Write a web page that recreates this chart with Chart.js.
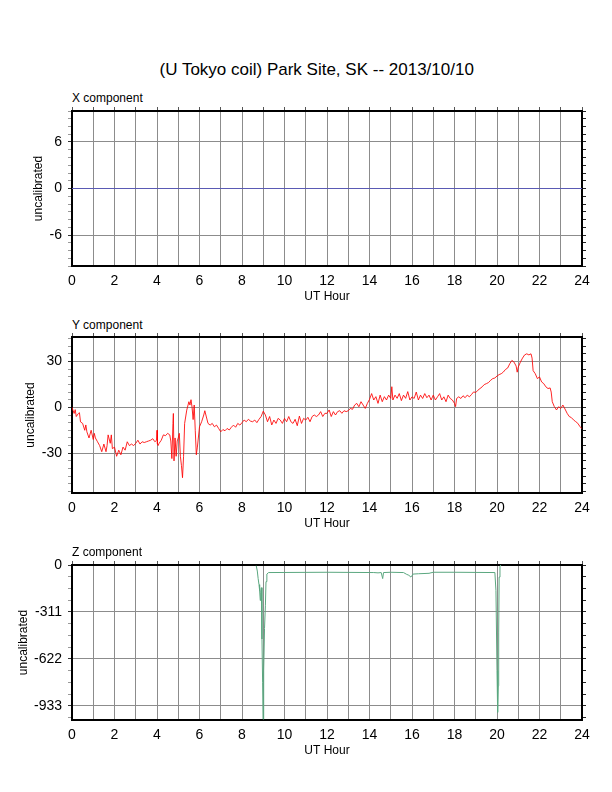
<!DOCTYPE html>
<html lang="en">

<head>
    <meta charset="UTF-8">
    <title>(U Tokyo coil) Park Site, SK -- 2013/10/10</title>
    <script src="https://cdn.jsdelivr.net/npm/chart.js"></script>
    <style>
        body {
            margin: 0;
            width: 612px;
            height: 792px;
            background: #fff;
            position: relative;
            overflow: hidden;
            font-family: "Liberation Sans", Arial, sans-serif;
            color: #000;
        }

        .titulo {
            position: absolute;
            top: 60.6px;
            left: 316.7px;
            transform: translateX(-50%);
            font-size: 17px;
            line-height: 17px;
            white-space: nowrap;
        }

        .rotulo {
            position: absolute;
            left: 72px;
            font-size: 12px;
            line-height: 12px;
            white-space: nowrap;
        }

        canvas {
            position: absolute;
            left: 0;
        }
    </style>
</head>

<body>
    <div class="titulo">(U Tokyo coil) Park Site, SK -- 2013/10/10</div>

    <div class="rotulo" style="top: 91.5px;">X component</div>
    <canvas id="painelX" width="612" height="230" style="top: 86px;"></canvas>

    <div class="rotulo" style="top: 318.8px;">Y component</div>
    <canvas id="painelY" width="612" height="231" style="top: 312px;"></canvas>

    <div class="rotulo" style="top: 545.8px;">Z component</div>
    <canvas id="painelZ" width="612" height="230" style="top: 540px;"></canvas>

    <script>
        // X component: flat line at zero
        const horasX = [0, 24];
        const valoresX = [0, 0];

        // Y component (UT hour / value)
        const horasY = [
            0.00, 0.05, 0.10, 0.15, 0.20, 0.30, 0.35, 0.40, 0.50, 0.60, 0.65, 0.70, 0.80, 0.90,
            1.00, 1.05, 1.10, 1.20, 1.30, 1.40, 1.50, 1.60, 1.65, 1.70, 1.80, 1.85, 1.90,
            2.00, 2.10, 2.20, 2.30, 2.40, 2.50, 2.60, 2.70, 2.80, 2.90,
            3.00, 3.10, 3.20, 3.30, 3.40, 3.50, 3.60, 3.70, 3.80, 3.90, 3.98,
            4.00, 4.02, 4.05, 4.10, 4.20, 4.30, 4.40, 4.50, 4.60, 4.65, 4.70, 4.75, 4.77, 4.80, 4.85, 4.90, 4.95,
            5.00, 5.05, 5.10, 5.15, 5.20, 5.25, 5.30, 5.40, 5.50, 5.55, 5.60, 5.65, 5.70, 5.75, 5.80, 5.85, 5.90,
            6.00, 6.10, 6.20, 6.25, 6.30, 6.40, 6.50, 6.60, 6.70, 6.80, 6.90,
            7.00, 7.10, 7.20, 7.30, 7.40, 7.50, 7.60, 7.70, 7.80, 7.90,
            8.00, 8.10, 8.20, 8.30, 8.40, 8.50, 8.60, 8.70, 8.80, 8.90,
            9.00, 9.10, 9.20, 9.30, 9.40, 9.50, 9.60, 9.70, 9.80, 9.90,
            10.00, 10.10, 10.20, 10.30, 10.40, 10.50, 10.60, 10.70, 10.80, 10.90,
            11.00, 11.10, 11.20, 11.30, 11.40, 11.50, 11.60, 11.70, 11.80, 11.90,
            12.00, 12.10, 12.20, 12.30, 12.40, 12.50, 12.60, 12.70, 12.80, 12.90,
            13.00, 13.10, 13.20, 13.30, 13.40, 13.50, 13.60, 13.70, 13.80, 13.90,
            14.00, 14.10, 14.20, 14.30, 14.40, 14.50, 14.60, 14.70, 14.80, 14.90,
            15.00, 15.05, 15.10, 15.20, 15.30, 15.40, 15.50, 15.60, 15.70, 15.80, 15.90,
            16.00, 16.10, 16.20, 16.30, 16.40, 16.50, 16.60, 16.70, 16.80, 16.90,
            17.00, 17.10, 17.20, 17.30, 17.40, 17.50, 17.60, 17.70, 17.80, 17.90,
            18.00, 18.05, 18.10, 18.20, 18.30, 18.40, 18.50, 18.60, 18.70, 18.80, 18.90,
            19.00, 19.10, 19.20, 19.30, 19.40, 19.50, 19.60, 19.70, 19.80, 19.90,
            20.00, 20.10, 20.20, 20.30, 20.40, 20.50, 20.60, 20.70, 20.80, 20.90, 20.95,
            21.00, 21.10, 21.20, 21.30, 21.40, 21.50, 21.60, 21.65, 21.70, 21.80, 21.90,
            22.00, 22.10, 22.20, 22.30, 22.40, 22.50, 22.55, 22.60, 22.70, 22.80, 22.90,
            23.00, 23.10, 23.20, 23.30, 23.40, 23.50, 23.60, 23.70, 23.80, 23.90, 24.00
        ];
        const valoresY = [
            0, -2, -4, -1.5, -6, -4, -3.5, -9.5, -10.5, -15, -11.5, -16, -20, -15,
            -21, -17, -20, -22.5, -25, -29, -24, -29, -25, -18, -23.5, -18, -27,
            -26, -32, -28, -31, -26, -28, -22.5, -25, -24, -25,
            -23.5, -21.5, -24, -22.5, -23, -22.5, -22, -21.5, -20.5, -22.5, -21.5,
            -15, -24, -25, -23.5, -21.5, -18, -18.5, -17, -18, -22, -33.5, -10.5, -4, -35, -20, -32, -22,
            -20, -17, -32, -38, -46, -32, -10.5, -1.8, 3.7, 1.5, 5, 0, -8, 1.5, -15, -31, -26,
            -12.7, -9.4, -5, -2.2, -5, -10.5, -11.6, -10.5, -12.7, -11.6, -13.8,
            -16, -14.5, -15.3, -13.8, -14.8, -13, -11.6, -13, -10.5, -11.6,
            -10, -8.3, -9.4, -7.8, -9, -9.4, -8.3, -10, -7.8, -6,
            -2.5, -5, -9.4, -6, -11.5, -8.3, -10.5, -7.2, -8.3, -10.5,
            -7.2, -9.4, -6, -9.4, -10.5, -7.8, -12, -5.7, -10.5, -7.2,
            -8.3, -6.5, -9.4, -6, -5, -6, -5, -2.8, -6, -3.9,
            -3.9, -1.7, -6, -2.8, -5, -2.8, -2.2, -3.9, -2.2, -2.8,
            -2.2, -0.7, -1.3, 1.5, 2.6, 0.4, 3.7, 1.5, -0.7, 2.6,
            5.2, 9, 4.8, 7, 2.6, 8, 3.7, 7, 4.8, 8,
            5.9, 13.5, 4.8, 8, 5.9, 9, 4.4, 8, 5.9, 10.3, 4.8,
            6.9, 5.8, 10, 4.8, 8, 5.8, 9, 6.3, 8, 4.8,
            8, 4.8, 6.9, 9, 4.8, 6.9, 3.7, 8, 5.8, 4.8,
            2.6, 0.5, 5.8, 6.9, 5.8, 7.6, 6.3, 8, 6.9, 8.4, 10.1,
            9.7, 11.2, 12.3, 13.4, 14.9, 15.5, 16.2, 17.7, 18.8, 19.2,
            20.5, 21.4, 22, 23.1, 24.8, 25.7, 28.5, 30.7, 29.6, 27, 23,
            26.3, 29.6, 32.2, 34.3, 35, 34.3, 35, 32.2, 24, 22, 18.8,
            19.9, 16.6, 15.5, 13.4, 12.3, 12.7, 10, 3.7, 0.4, -1.7, 0.4,
            -0.7, 1.5, -1.1, -3.9, -6, -6.7, -8.2, -9.3, -10.4, -12.5, -14
        ];

        // Z component (data only from ~8.7 h to ~20.2 h)
        const horasZ = [
            8.67, 8.72, 8.76, 8.80, 8.83, 8.86, 8.88, 8.91, 8.94, 8.97, 8.99, 9.02, 9.06, 9.10, 9.13, 9.17, 9.25,
            12.0, 14.2, 14.4, 14.55, 14.62, 14.66, 15.0, 15.6, 15.75, 15.85, 15.95, 15.98, 16.05, 16.3, 16.8,
            17.0, 18.0, 19.9, 19.95, 20.0, 20.03, 20.06, 20.08, 20.1, 20.14, 20.18
        ];
        const valoresZ = [
            -5, -40, -90, -130, -170, -235, -180, -150, -490, -780, -1020, -700, -420, -270, -110, -60, -50,
            -48, -50, -52, -50, -90, -50, -48, -50, -62, -68, -80, -75, -60, -58, -55,
            -48, -48, -50, -170, -700, -975, -800, -450, -80, -10, 0
        ];

        // ticks
        const horasEixo = [0, 2, 4, 6, 8, 10, 12, 14, 16, 18, 20, 22, 24];

        Chart.defaults.font.family = '"Liberation Sans", Arial, sans-serif';
        Chart.defaults.color = '#000';
        Chart.defaults.animation = false;

        function pontos(horas, valores) {
            return horas.map((h, i) => ({ x: h, y: valores[i] }));
        }

        // eixo: {min, max, passo, marca, recuo} -> marca = spacing of labelled ticks, recuo = y title padding
        function criaPainel(id, dados, cor, eixo) {
            const ehMarca = v => Math.abs(v % eixo.marca) < 1e-6;
            return new Chart(document.getElementById(id), {
                type: 'line',
                data: {
                    datasets: [{
                        data: dados,
                        borderColor: cor,
                        borderWidth: 1,
                        pointRadius: 0,
                        tension: 0,
                        fill: false
                    }]
                },
                options: {
                    responsive: false,
                    layout: { padding: { top: 20, left: 0, right: 0, bottom: 0 } },
                    plugins: { legend: { display: false }, tooltip: { enabled: false } },
                    scales: {
                        x: {
                            type: 'linear', min: 0, max: 24,
                            ticks: {
                                stepSize: 1, autoSkip: false, maxRotation: 0, padding: 7,
                                font: { size: 14 },
                                callback: v => (horasEixo.includes(v) ? v : '')
                            },
                            grid: {
                                drawTicks: false,
                                color: c => (c.tick && c.tick.value > 0 && c.tick.value < 24 ? '#8c8c8c' : 'rgba(0,0,0,0)')
                            },
                            border: { color: '#000', width: 2 },
                            title: { display: true, text: 'UT Hour', font: { size: 12 }, padding: { top: 0, bottom: 12 } },
                            afterFit: s => { s.height = 50; }
                        },
                        x2: {
                            type: 'linear', position: 'top', min: 0, max: 24,
                            ticks: { stepSize: 1, autoSkip: false, display: false },
                            grid: { drawOnChartArea: false, tickLength: 4, tickColor: '#555' },
                            border: { color: '#000', width: 2 },
                            afterFit: s => { s.height = 5; }
                        },
                        y: {
                            min: eixo.min, max: eixo.max,
                            ticks: {
                                stepSize: eixo.passo, autoSkip: false, includeBounds: false, padding: 6,
                                font: { size: 14 },
                                callback: v => (ehMarca(v) ? v : '')
                            },
                            grid: {
                                tickLength: 4,
                                color: c => (c.tick && ehMarca(c.tick.value) && c.tick.value !== eixo.max ? '#8c8c8c' : 'rgba(0,0,0,0)'),
                                tickColor: c => (c.tick && ehMarca(c.tick.value) ? '#333' : '#999')
                            },
                            border: { color: '#000', width: 2 },
                            title: { display: true, text: 'uncalibrated', font: { size: 12 }, padding: { top: eixo.recuo, bottom: 0 } },
                            afterFit: s => { s.width = 72; }
                        },
                        y2: {
                            type: 'linear', position: 'right', min: eixo.min, max: eixo.max,
                            ticks: { stepSize: eixo.passo, autoSkip: false, includeBounds: false, display: false },
                            grid: { drawOnChartArea: false, tickLength: 4, tickColor: '#222' },
                            border: { color: '#000', width: 2 },
                            afterFit: s => { s.width = 30; }
                        }
                    }
                }
            });
        }

        const chartX = criaPainel('painelX', pontos(horasX, valoresX), '#5a5ab4',
            { min: -10, max: 10, passo: 1, marca: 6, recuo: 31 });
        const chartY = criaPainel('painelY', pontos(horasY, valoresY), 'rgba(255,0,0,0.85)',
            { min: -56, max: 46, passo: 5, marca: 30, recuo: 23 });
        const chartZ = criaPainel('painelZ', pontos(horasZ, valoresZ), '#5aa77f',
            { min: -1026, max: 0, passo: 77.75, marca: 311, recuo: 16 });
    </script>
</body>

</html>
